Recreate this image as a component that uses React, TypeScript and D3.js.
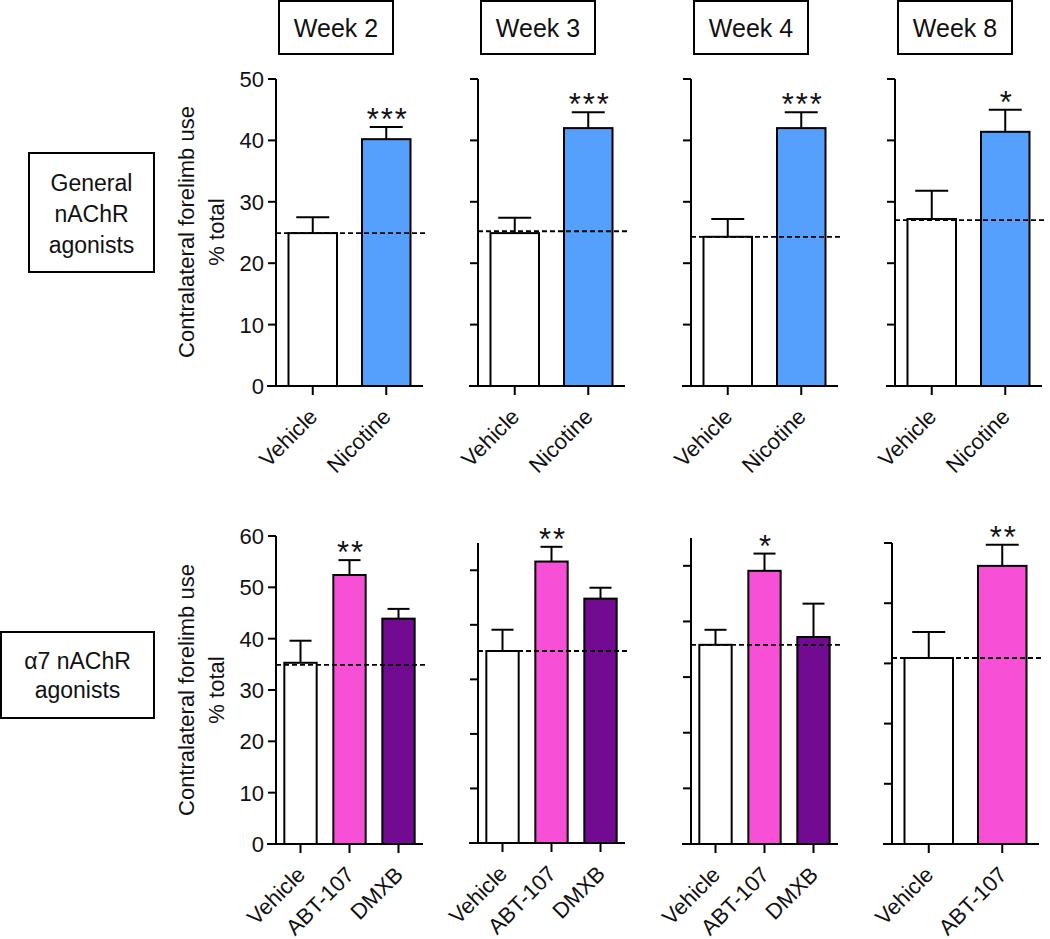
import React, { useRef, useEffect } from "react";
import * as d3 from "d3";

// values (each panel in its own axis units)
const weeks = ["Week 2", "Week 3", "Week 4", "Week 8"];

const generalGroups = [
  ["Vehicle", "Nicotine"],
  ["Vehicle", "Nicotine"],
  ["Vehicle", "Nicotine"],
  ["Vehicle", "Nicotine"],
];
const generalMeans = [[24.9, 40.2], [24.9, 42.0], [24.3, 42.0], [27.2, 41.4]];
const generalSem = [[2.6, 2.0], [2.5, 2.6], [2.9, 2.6], [4.6, 3.6]];
const generalBaseline = [24.9, 25.2, 24.3, 27.0];
const generalStars = ["***", "***", "***", "*"];
const generalYMax = [50, 50, 50, 50];

const alpha7Groups = [
  ["Vehicle", "ABT-107", "DMXB"],
  ["Vehicle", "ABT-107", "DMXB"],
  ["Vehicle", "ABT-107", "DMXB"],
  ["Vehicle", "ABT-107"],
];
const alpha7Means = [[35.3, 52.4, 43.9], [35.2, 51.6, 44.8], [35.8, 49.1, 37.2], [30.9, 46.2]];
const alpha7Sem = [[4.3, 2.9, 1.9], [3.9, 2.7, 2.0], [2.7, 3.1, 6.0], [4.3, 3.5]];
const alpha7Baseline = [34.9, 35.2, 35.8, 30.9];
const alpha7Stars = ["**", "**", "*", "**"];
const alpha7YMax = [60, 55, 55, 50];

const yTickValues = [0, 10, 20, 30, 40, 50, 60];

const groupColor = {
  Vehicle: "#ffffff",
  Nicotine: "#55a0fd",
  "ABT-107": "#f74fd6",
  DMXB: "#730a92",
};

const FONT = "Arial, 'Liberation Sans', Helvetica, sans-serif";

export default function App() {
  const svgRef = useRef(null);

  useEffect(() => {
    const svg = d3.select(svgRef.current);
    svg.selectAll("*").remove();

    const panelW = 147;

    const drawPanel = (opts) => {
      const { x0, yRange, yMax, groups, means, sem, baseline, stars, showLabels } = opts;
      const g = svg.append("g");

      const x = d3
        .scaleBand()
        .domain(groups)
        .range([x0, x0 + panelW])
        .paddingInner(0.34)
        .paddingOuter(0.17);
      const y = d3.scaleLinear().domain([0, yMax]).range(yRange);
      const ticks = yTickValues.filter((t) => t <= yMax);

      // y axis
      g.append("line")
        .attr("x1", x0).attr("x2", x0)
        .attr("y1", y(0)).attr("y2", y(yMax))
        .attr("stroke", "#000").attr("stroke-width", 2);
      g.selectAll("line.ytick")
        .data(ticks)
        .join("line")
        .attr("class", "ytick")
        .attr("x1", x0 - 8).attr("x2", x0)
        .attr("y1", (d) => y(d)).attr("y2", (d) => y(d))
        .attr("stroke", "#000").attr("stroke-width", 2);
      if (showLabels) {
        g.selectAll("text.ylab")
          .data(ticks)
          .join("text")
          .attr("class", "ylab")
          .attr("x", x0 - 12)
          .attr("y", (d) => y(d))
          .attr("dy", "0.36em")
          .attr("text-anchor", "end")
          .style("font-family", FONT)
          .style("font-size", "22px")
          .attr("fill", "#111")
          .text((d) => d);
      }

      // bars
      const rows = groups.map((name, i) => ({ name, v: means[i], e: sem[i], i }));
      g.selectAll("rect.bar")
        .data(rows)
        .join("rect")
        .attr("class", "bar")
        .attr("x", (d) => x(d.name))
        .attr("y", (d) => y(d.v))
        .attr("width", x.bandwidth())
        .attr("height", (d) => y(0) - y(d.v))
        .attr("fill", (d) => groupColor[d.name])
        .attr("stroke", "#000")
        .attr("stroke-width", 2);

      // error bars
      const cap = x.bandwidth() * 0.34;
      rows.forEach((d) => {
        const cx = x(d.name) + x.bandwidth() / 2;
        g.append("line")
          .attr("x1", cx).attr("x2", cx)
          .attr("y1", y(d.v)).attr("y2", y(d.v + d.e))
          .attr("stroke", "#000").attr("stroke-width", 2);
        g.append("line")
          .attr("x1", cx - cap).attr("x2", cx + cap)
          .attr("y1", y(d.v + d.e)).attr("y2", y(d.v + d.e))
          .attr("stroke", "#000").attr("stroke-width", 2);
      });

      // vehicle reference line
      g.append("line")
        .attr("x1", x0).attr("x2", x0 + panelW + 4)
        .attr("y1", y(baseline)).attr("y2", y(baseline))
        .attr("stroke", "#000").attr("stroke-width", 1.8)
        .attr("stroke-dasharray", "5,3");

      // x axis
      g.append("line")
        .attr("x1", x0 - 9).attr("x2", x0 + panelW)
        .attr("y1", y(0)).attr("y2", y(0))
        .attr("stroke", "#000").attr("stroke-width", 2);
      rows.forEach((d) => {
        const cx = x(d.name) + x.bandwidth() / 2;
        g.append("line")
          .attr("x1", cx).attr("x2", cx)
          .attr("y1", y(0)).attr("y2", y(0) + 9)
          .attr("stroke", "#000").attr("stroke-width", 2);
        const ax = cx + 6;
        const ay = y(0) + 32;
        g.append("text")
          .attr("transform", `translate(${ax},${ay}) rotate(-45)`)
          .attr("text-anchor", "end")
          .style("font-family", FONT)
          .style("font-size", "22px")
          .attr("fill", "#111")
          .text(d.name);
      });

      // significance stars above the treated bar
      const s = rows[1];
      const sx = x(s.name) + x.bandwidth() / 2;
      g.append("text")
        .attr("x", sx + 1.5)
        .attr("y", y(s.v + s.e) + 3)
        .attr("text-anchor", "middle")
        .style("font-family", FONT)
        .style("font-size", "31px")
        .style("letter-spacing", "2px")
        .attr("fill", "#111")
        .text(stars);
    };

    const topX0 = [276, 478, 691, 895];
    const botX0 = [276, 478, 691, 892];
    const botRanges = [[844, 536], [843, 543], [844, 538], [844, 543]];

    weeks.forEach((wk, i) => {
      // week header box
      svg.append("rect")
        .attr("x", topX0[i] + 3).attr("y", 1)
        .attr("width", 114).attr("height", 53)
        .attr("fill", "#fff").attr("stroke", "#000").attr("stroke-width", 2);
      svg.append("text")
        .attr("x", topX0[i] + 60).attr("y", 37)
        .attr("text-anchor", "middle")
        .style("font-family", FONT).style("font-size", "25px")
        .attr("fill", "#111")
        .text(wk);

      drawPanel({
        x0: topX0[i], yRange: [386, 79], yMax: generalYMax[i],
        groups: generalGroups[i], means: generalMeans[i], sem: generalSem[i],
        baseline: generalBaseline[i], stars: generalStars[i], showLabels: i === 0,
      });
      drawPanel({
        x0: botX0[i], yRange: botRanges[i], yMax: alpha7YMax[i],
        groups: alpha7Groups[i], means: alpha7Means[i], sem: alpha7Sem[i],
        baseline: alpha7Baseline[i], stars: alpha7Stars[i], showLabels: i === 0,
      });
    });

    // y axis titles
    [232, 690].forEach((cy) => {
      svg.append("text")
        .attr("transform", `translate(194,${cy}) rotate(-90)`)
        .attr("text-anchor", "middle")
        .style("font-family", FONT).style("font-size", "22px")
        .attr("fill", "#111")
        .text("Contralateral forelimb use");
      svg.append("text")
        .attr("transform", `translate(224,${cy}) rotate(-90)`)
        .attr("text-anchor", "middle")
        .style("font-family", FONT).style("font-size", "22px")
        .attr("fill", "#111")
        .text("% total");
    });

    // row label boxes
    const rowBox = (bx, by, bw, bh, lines, baseY, gap) => {
      svg.append("rect")
        .attr("x", bx).attr("y", by).attr("width", bw).attr("height", bh)
        .attr("fill", "#fff").attr("stroke", "#000").attr("stroke-width", 2);
      lines.forEach((t, k) => {
        svg.append("text")
          .attr("x", bx + bw / 2).attr("y", baseY + k * gap)
          .attr("text-anchor", "middle")
          .style("font-family", FONT).style("font-size", "23px")
          .attr("fill", "#111")
          .text(t);
      });
    };
    rowBox(29, 153, 125, 119, ["General", "nAChR", "agonists"], 191, 31);
    rowBox(1, 632, 153, 86, ["\u03B17 nAChR", "agonists"], 669, 29);
  }, []);

  return (
    <svg
      ref={svgRef}
      width={1050}
      height={939}
      style={{ position: "absolute", left: 0, top: 0, background: "#fff" }}
    />
  );
}
